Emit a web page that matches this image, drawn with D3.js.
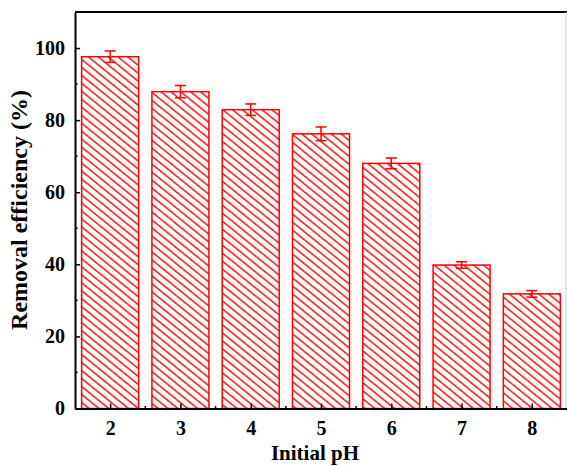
<!DOCTYPE html>
<html lang="en">
<head>
<meta charset="UTF-8">
<title>Removal efficiency vs pH</title>
<script src="https://d3js.org/d3.v7.min.js"></script>
<style>
  body { margin: 0; background: #fff; }
  text { font-family: "Liberation Serif", "Times New Roman", serif; font-weight: bold; }
</style>
</head>
<body>
<div id="chart"></div>
<script>
  // data
  const phValues = [2, 3, 4, 5, 6, 7, 8];
  const efficiency = [97.6, 87.9, 82.9, 76.2, 68.0, 39.8, 31.8];
  const errors = [1.6, 1.7, 1.6, 1.9, 1.5, 0.9, 0.9];
  const yTicks = [0, 20, 40, 60, 80, 100];

  const width = 567, height = 466;
  const plotLeft = 75, plotRight = 567, plotTop = 12, plotBottom = 408.5;

  const svg = d3.select("#chart").append("svg")
    .attr("width", width)
    .attr("height", height);

  const x = d3.scaleLinear().domain([1.5, 8.5]).range([plotLeft, plotRight]);
  const y = d3.scaleLinear().domain([0, 110]).range([plotBottom, plotTop]);

  // hatch pattern
  const gap = 6.2;
  const defs = svg.append("defs");
  const pat = defs.append("pattern")
    .attr("id", "hatch")
    .attr("patternUnits", "userSpaceOnUse")
    .attr("width", 10)
    .attr("height", gap)
    .attr("patternTransform", "rotate(39)");
  pat.append("rect").attr("width", 10).attr("height", gap).attr("fill", "#fff");
  pat.append("line")
    .attr("x1", 0).attr("x2", 10)
    .attr("y1", 1).attr("y2", 1)
    .attr("stroke", "#ff0000")
    .attr("stroke-width", 1.4);

  const barW = 57;

  const bars = svg.append("g");
  bars.selectAll("rect")
    .data(phValues)
    .join("rect")
    .attr("x", d => x(d) - barW / 2)
    .attr("width", barW)
    .attr("y", (d, i) => y(efficiency[i]))
    .attr("height", (d, i) => plotBottom - y(efficiency[i]))
    .attr("fill", "url(#hatch)")
    .attr("stroke", "#ff0000")
    .attr("stroke-width", 1.5);

  // error bars
  const err = svg.append("g").attr("stroke", "#ff0000").attr("stroke-width", 1.5);
  phValues.forEach((d, i) => {
    const cx = x(d);
    const hi = y(efficiency[i] + errors[i]);
    const lo = y(efficiency[i] - errors[i]);
    err.append("line").attr("x1", cx).attr("x2", cx).attr("y1", hi).attr("y2", lo);
    err.append("line").attr("x1", cx - 5.5).attr("x2", cx + 5.5).attr("y1", hi).attr("y2", hi);
    err.append("line").attr("x1", cx - 5.5).attr("x2", cx + 5.5).attr("y1", lo).attr("y2", lo);
  });

  // frame
  svg.append("line").attr("x1", plotLeft).attr("x2", plotRight).attr("y1", plotTop).attr("y2", plotTop)
    .attr("stroke", "#000").attr("stroke-width", 2);
  svg.append("line").attr("x1", 566).attr("x2", 566).attr("y1", plotTop).attr("y2", plotBottom)
    .attr("stroke", "#ccc").attr("stroke-width", 1);

  // x axis
  const xAxis = d3.axisBottom(x).tickValues(phValues).tickFormat(d3.format("d"))
    .tickSizeInner(-5).tickSizeOuter(0).tickPadding(12);
  const gx = svg.append("g").attr("transform", `translate(0,${plotBottom})`).call(xAxis);
  gx.selectAll(".tick line").attr("stroke-width", 1.5);
  gx.select(".domain").attr("stroke-width", 2);
  gx.selectAll("text").attr("font-size", 20).attr("font-family", "Liberation Serif").attr("font-weight", "bold");
  svg.append("g").selectAll("line")
    .data(d3.range(2.5, 8, 1))
    .join("line")
    .attr("x1", d => x(d)).attr("x2", d => x(d))
    .attr("y1", plotBottom).attr("y2", plotBottom - 2.5)
    .attr("stroke", "#000").attr("stroke-width", 1.5);

  // y axis
  const yAxis = d3.axisLeft(y).tickValues(yTicks)
    .tickSizeInner(-5).tickSizeOuter(0).tickPadding(10);
  const gy = svg.append("g").attr("transform", `translate(${plotLeft},0)`).call(yAxis);
  gy.selectAll(".tick line").attr("stroke-width", 1.5);
  gy.select(".domain").attr("stroke-width", 2);
  gy.selectAll("text").attr("font-size", 20).attr("font-family", "Liberation Serif").attr("font-weight", "bold");
  svg.append("g").selectAll("line")
    .data(d3.range(10, 110, 20))
    .join("line")
    .attr("x1", plotLeft).attr("x2", plotLeft + 2.5)
    .attr("y1", d => y(d)).attr("y2", d => y(d))
    .attr("stroke", "#000").attr("stroke-width", 1.5);

  // axis titles
  svg.append("text")
    .attr("x", 315)
    .attr("y", 460)
    .attr("text-anchor", "middle")
    .attr("font-size", 21)
    .text("Initial pH");

  svg.append("text")
    .attr("transform", "translate(27,210) rotate(-90)")
    .attr("text-anchor", "middle")
    .attr("font-size", 24)
    .text("Removal efficiency (%)");
</script>
</body>
</html>
